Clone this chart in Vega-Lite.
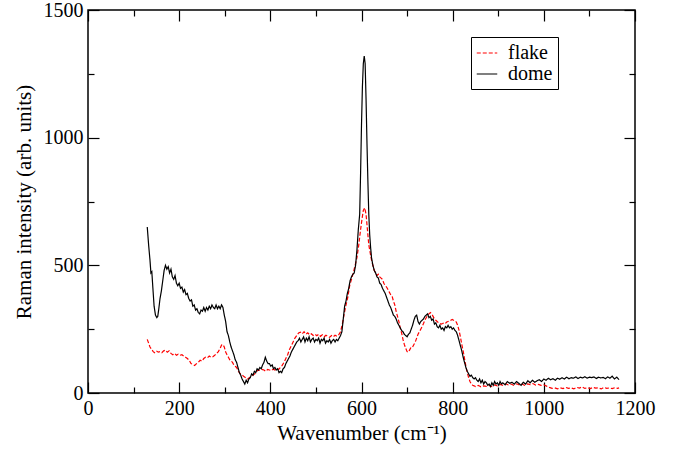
{
"$schema": "https://vega.github.io/schema/vega-lite/v6.json",
"width": 547, "height": 383,
"autosize": {"type": "none"},
"padding": {"left": 88, "top": 10, "right": 38, "bottom": 57},
"background": "white",
"config": {
  "view": {"stroke": "black", "strokeWidth": 1.5},
  "axis": {"labelFont": "Liberation Serif", "titleFont": "Liberation Serif", "labelColor": "black", "titleColor": "black", "labelFontSize": 20, "titleFontSize": 21, "titleFontWeight": "normal", "grid": false, "domain": false, "tickColor": "black", "tickWidth": 1.2, "format": "d"},
  "legend": {"labelFont": "Liberation Serif", "labelFontSize": 20, "labelColor": "black"}
},
"data": {"values": [
{"s":"flake","w":130,"i":210},{"s":"flake","w":133,"i":195},{"s":"flake","w":136,"i":180},{"s":"flake","w":140,"i":170},{"s":"flake","w":143,"i":162},{"s":"flake","w":146,"i":158},{"s":"flake","w":150,"i":165},{"s":"flake","w":154,"i":160},{"s":"flake","w":158,"i":162},{"s":"flake","w":162,"i":158},{"s":"flake","w":166,"i":165},{"s":"flake","w":170,"i":168},{"s":"flake","w":174,"i":160},{"s":"flake","w":178,"i":165},{"s":"flake","w":182,"i":155},{"s":"flake","w":186,"i":150},{"s":"flake","w":190,"i":155},{"s":"flake","w":194,"i":148},{"s":"flake","w":198,"i":152},{"s":"flake","w":202,"i":148},{"s":"flake","w":206,"i":150},{"s":"flake","w":210,"i":145},{"s":"flake","w":214,"i":140},{"s":"flake","w":218,"i":135},{"s":"flake","w":222,"i":128},{"s":"flake","w":226,"i":115},{"s":"flake","w":230,"i":112},{"s":"flake","w":234,"i":108},{"s":"flake","w":238,"i":115},{"s":"flake","w":242,"i":120},{"s":"flake","w":246,"i":128},{"s":"flake","w":250,"i":125},{"s":"flake","w":254,"i":135},{"s":"flake","w":258,"i":140},{"s":"flake","w":262,"i":138},{"s":"flake","w":266,"i":145},{"s":"flake","w":270,"i":140},{"s":"flake","w":274,"i":142},{"s":"flake","w":278,"i":148},{"s":"flake","w":282,"i":155},{"s":"flake","w":286,"i":162},{"s":"flake","w":290,"i":175},{"s":"flake","w":293,"i":188},{"s":"flake","w":296,"i":190},{"s":"flake","w":299,"i":180},{"s":"flake","w":302,"i":160},{"s":"flake","w":305,"i":150},{"s":"flake","w":308,"i":140},{"s":"flake","w":311,"i":130},{"s":"flake","w":314,"i":125},{"s":"flake","w":317,"i":120},{"s":"flake","w":320,"i":110},{"s":"flake","w":323,"i":105},{"s":"flake","w":326,"i":100},{"s":"flake","w":330,"i":85},{"s":"flake","w":334,"i":75},{"s":"flake","w":338,"i":70},{"s":"flake","w":342,"i":65},{"s":"flake","w":346,"i":60},{"s":"flake","w":350,"i":55},{"s":"flake","w":354,"i":60},{"s":"flake","w":358,"i":65},{"s":"flake","w":362,"i":70},{"s":"flake","w":366,"i":75},{"s":"flake","w":370,"i":85},{"s":"flake","w":374,"i":90},{"s":"flake","w":378,"i":88},{"s":"flake","w":382,"i":92},{"s":"flake","w":386,"i":90},{"s":"flake","w":390,"i":85},{"s":"flake","w":394,"i":92},{"s":"flake","w":398,"i":90},{"s":"flake","w":402,"i":88},{"s":"flake","w":406,"i":93},{"s":"flake","w":410,"i":90},{"s":"flake","w":414,"i":95},{"s":"flake","w":418,"i":92},{"s":"flake","w":422,"i":100},{"s":"flake","w":426,"i":108},{"s":"flake","w":430,"i":120},{"s":"flake","w":434,"i":135},{"s":"flake","w":438,"i":150},{"s":"flake","w":442,"i":170},{"s":"flake","w":446,"i":185},{"s":"flake","w":450,"i":200},{"s":"flake","w":454,"i":215},{"s":"flake","w":458,"i":225},{"s":"flake","w":462,"i":235},{"s":"flake","w":466,"i":238},{"s":"flake","w":470,"i":232},{"s":"flake","w":474,"i":240},{"s":"flake","w":478,"i":230},{"s":"flake","w":482,"i":236},{"s":"flake","w":486,"i":228},{"s":"flake","w":490,"i":232},{"s":"flake","w":494,"i":225},{"s":"flake","w":498,"i":230},{"s":"flake","w":502,"i":224},{"s":"flake","w":506,"i":230},{"s":"flake","w":510,"i":222},{"s":"flake","w":514,"i":228},{"s":"flake","w":518,"i":220},{"s":"flake","w":522,"i":226},{"s":"flake","w":526,"i":222},{"s":"flake","w":530,"i":218},{"s":"flake","w":534,"i":225},{"s":"flake","w":538,"i":220},{"s":"flake","w":542,"i":226},{"s":"flake","w":546,"i":222},{"s":"flake","w":550,"i":228},{"s":"flake","w":554,"i":240},{"s":"flake","w":558,"i":270},{"s":"flake","w":562,"i":310},{"s":"flake","w":566,"i":345},{"s":"flake","w":570,"i":375},{"s":"flake","w":574,"i":420},{"s":"flake","w":578,"i":445},{"s":"flake","w":582,"i":470},{"s":"flake","w":586,"i":500},{"s":"flake","w":590,"i":530},{"s":"flake","w":594,"i":580},{"s":"flake","w":598,"i":640},{"s":"flake","w":601,"i":680},{"s":"flake","w":604,"i":715},{"s":"flake","w":607,"i":725},{"s":"flake","w":610,"i":700},{"s":"flake","w":613,"i":640},{"s":"flake","w":616,"i":580},{"s":"flake","w":619,"i":550},{"s":"flake","w":622,"i":520},{"s":"flake","w":625,"i":500},{"s":"flake","w":628,"i":480},{"s":"flake","w":631,"i":470},{"s":"flake","w":634,"i":460},{"s":"flake","w":637,"i":465},{"s":"flake","w":640,"i":455},{"s":"flake","w":643,"i":450},{"s":"flake","w":646,"i":445},{"s":"flake","w":649,"i":430},{"s":"flake","w":652,"i":420},{"s":"flake","w":655,"i":415},{"s":"flake","w":658,"i":405},{"s":"flake","w":661,"i":395},{"s":"flake","w":664,"i":385},{"s":"flake","w":667,"i":380},{"s":"flake","w":670,"i":360},{"s":"flake","w":673,"i":345},{"s":"flake","w":676,"i":320},{"s":"flake","w":679,"i":300},{"s":"flake","w":682,"i":280},{"s":"flake","w":685,"i":255},{"s":"flake","w":688,"i":235},{"s":"flake","w":691,"i":210},{"s":"flake","w":694,"i":190},{"s":"flake","w":697,"i":175},{"s":"flake","w":700,"i":162},{"s":"flake","w":703,"i":160},{"s":"flake","w":706,"i":170},{"s":"flake","w":709,"i":180},{"s":"flake","w":712,"i":180},{"s":"flake","w":715,"i":190},{"s":"flake","w":718,"i":200},{"s":"flake","w":721,"i":215},{"s":"flake","w":724,"i":230},{"s":"flake","w":727,"i":240},{"s":"flake","w":730,"i":250},{"s":"flake","w":733,"i":260},{"s":"flake","w":736,"i":272},{"s":"flake","w":739,"i":285},{"s":"flake","w":742,"i":295},{"s":"flake","w":745,"i":305},{"s":"flake","w":748,"i":310},{"s":"flake","w":751,"i":315},{"s":"flake","w":754,"i":310},{"s":"flake","w":757,"i":300},{"s":"flake","w":760,"i":290},{"s":"flake","w":763,"i":285},{"s":"flake","w":766,"i":280},{"s":"flake","w":769,"i":275},{"s":"flake","w":772,"i":272},{"s":"flake","w":775,"i":270},{"s":"flake","w":778,"i":272},{"s":"flake","w":781,"i":275},{"s":"flake","w":784,"i":272},{"s":"flake","w":787,"i":278},{"s":"flake","w":790,"i":280},{"s":"flake","w":793,"i":282},{"s":"flake","w":796,"i":285},{"s":"flake","w":799,"i":288},{"s":"flake","w":802,"i":285},{"s":"flake","w":805,"i":282},{"s":"flake","w":808,"i":278},{"s":"flake","w":811,"i":265},{"s":"flake","w":814,"i":245},{"s":"flake","w":817,"i":220},{"s":"flake","w":820,"i":190},{"s":"flake","w":823,"i":165},{"s":"flake","w":826,"i":135},{"s":"flake","w":829,"i":105},{"s":"flake","w":832,"i":80},{"s":"flake","w":835,"i":60},{"s":"flake","w":838,"i":45},{"s":"flake","w":841,"i":35},{"s":"flake","w":844,"i":30},{"s":"flake","w":847,"i":28},{"s":"flake","w":850,"i":25},{"s":"flake","w":856,"i":30},{"s":"flake","w":862,"i":24},{"s":"flake","w":868,"i":28},{"s":"flake","w":874,"i":26},{"s":"flake","w":880,"i":30},{"s":"flake","w":886,"i":25},{"s":"flake","w":892,"i":32},{"s":"flake","w":898,"i":28},{"s":"flake","w":904,"i":34},{"s":"flake","w":910,"i":30},{"s":"flake","w":916,"i":36},{"s":"flake","w":922,"i":32},{"s":"flake","w":928,"i":35},{"s":"flake","w":934,"i":30},{"s":"flake","w":940,"i":36},{"s":"flake","w":946,"i":32},{"s":"flake","w":952,"i":35},{"s":"flake","w":958,"i":30},{"s":"flake","w":964,"i":36},{"s":"flake","w":970,"i":33},{"s":"flake","w":976,"i":37},{"s":"flake","w":982,"i":31},{"s":"flake","w":988,"i":34},{"s":"flake","w":994,"i":30},{"s":"flake","w":1000,"i":32},{"s":"flake","w":1006,"i":27},{"s":"flake","w":1012,"i":22},{"s":"flake","w":1018,"i":18},{"s":"flake","w":1024,"i":20},{"s":"flake","w":1030,"i":16},{"s":"flake","w":1036,"i":20},{"s":"flake","w":1042,"i":17},{"s":"flake","w":1048,"i":22},{"s":"flake","w":1054,"i":18},{"s":"flake","w":1060,"i":20},{"s":"flake","w":1066,"i":16},{"s":"flake","w":1072,"i":22},{"s":"flake","w":1078,"i":19},{"s":"flake","w":1084,"i":24},{"s":"flake","w":1090,"i":18},{"s":"flake","w":1096,"i":21},{"s":"flake","w":1102,"i":17},{"s":"flake","w":1108,"i":22},{"s":"flake","w":1114,"i":19},{"s":"flake","w":1120,"i":20},{"s":"flake","w":1126,"i":16},{"s":"flake","w":1132,"i":22},{"s":"flake","w":1138,"i":18},{"s":"flake","w":1144,"i":20},{"s":"flake","w":1150,"i":17},{"s":"flake","w":1156,"i":21},{"s":"flake","w":1162,"i":18},{"s":"flake","w":1165,"i":20},
{"s":"dome","w":130,"i":650},{"s":"dome","w":133,"i":580},{"s":"dome","w":136,"i":520},{"s":"dome","w":138,"i":470},{"s":"dome","w":140,"i":475},{"s":"dome","w":142,"i":420},{"s":"dome","w":145,"i":340},{"s":"dome","w":148,"i":305},{"s":"dome","w":151,"i":295},{"s":"dome","w":153,"i":300},{"s":"dome","w":155,"i":325},{"s":"dome","w":158,"i":370},{"s":"dome","w":161,"i":400},{"s":"dome","w":164,"i":440},{"s":"dome","w":167,"i":480},{"s":"dome","w":170,"i":500},{"s":"dome","w":173,"i":485},{"s":"dome","w":176,"i":495},{"s":"dome","w":179,"i":470},{"s":"dome","w":182,"i":485},{"s":"dome","w":185,"i":455},{"s":"dome","w":188,"i":445},{"s":"dome","w":191,"i":460},{"s":"dome","w":194,"i":430},{"s":"dome","w":197,"i":420},{"s":"dome","w":200,"i":430},{"s":"dome","w":203,"i":410},{"s":"dome","w":206,"i":415},{"s":"dome","w":209,"i":395},{"s":"dome","w":212,"i":405},{"s":"dome","w":215,"i":385},{"s":"dome","w":218,"i":390},{"s":"dome","w":221,"i":370},{"s":"dome","w":224,"i":360},{"s":"dome","w":227,"i":365},{"s":"dome","w":230,"i":340},{"s":"dome","w":233,"i":345},{"s":"dome","w":236,"i":325},{"s":"dome","w":239,"i":330},{"s":"dome","w":242,"i":315},{"s":"dome","w":245,"i":310},{"s":"dome","w":248,"i":325},{"s":"dome","w":251,"i":320},{"s":"dome","w":254,"i":335},{"s":"dome","w":257,"i":320},{"s":"dome","w":260,"i":335},{"s":"dome","w":263,"i":325},{"s":"dome","w":266,"i":340},{"s":"dome","w":269,"i":330},{"s":"dome","w":272,"i":345},{"s":"dome","w":275,"i":335},{"s":"dome","w":278,"i":330},{"s":"dome","w":281,"i":345},{"s":"dome","w":284,"i":330},{"s":"dome","w":287,"i":340},{"s":"dome","w":290,"i":330},{"s":"dome","w":293,"i":345},{"s":"dome","w":296,"i":335},{"s":"dome","w":299,"i":305},{"s":"dome","w":302,"i":280},{"s":"dome","w":305,"i":240},{"s":"dome","w":308,"i":225},{"s":"dome","w":311,"i":200},{"s":"dome","w":314,"i":180},{"s":"dome","w":317,"i":165},{"s":"dome","w":320,"i":150},{"s":"dome","w":323,"i":130},{"s":"dome","w":326,"i":120},{"s":"dome","w":329,"i":100},{"s":"dome","w":332,"i":80},{"s":"dome","w":335,"i":70},{"s":"dome","w":338,"i":55},{"s":"dome","w":341,"i":45},{"s":"dome","w":344,"i":35},{"s":"dome","w":347,"i":50},{"s":"dome","w":350,"i":40},{"s":"dome","w":353,"i":55},{"s":"dome","w":356,"i":60},{"s":"dome","w":359,"i":75},{"s":"dome","w":362,"i":70},{"s":"dome","w":365,"i":85},{"s":"dome","w":368,"i":80},{"s":"dome","w":371,"i":95},{"s":"dome","w":374,"i":90},{"s":"dome","w":377,"i":100},{"s":"dome","w":380,"i":95},{"s":"dome","w":383,"i":110},{"s":"dome","w":386,"i":120},{"s":"dome","w":389,"i":140},{"s":"dome","w":392,"i":125},{"s":"dome","w":395,"i":115},{"s":"dome","w":398,"i":115},{"s":"dome","w":401,"i":105},{"s":"dome","w":404,"i":110},{"s":"dome","w":407,"i":95},{"s":"dome","w":410,"i":100},{"s":"dome","w":413,"i":90},{"s":"dome","w":416,"i":95},{"s":"dome","w":419,"i":80},{"s":"dome","w":422,"i":85},{"s":"dome","w":425,"i":80},{"s":"dome","w":428,"i":95},{"s":"dome","w":431,"i":100},{"s":"dome","w":434,"i":115},{"s":"dome","w":437,"i":125},{"s":"dome","w":440,"i":135},{"s":"dome","w":443,"i":145},{"s":"dome","w":446,"i":160},{"s":"dome","w":449,"i":170},{"s":"dome","w":452,"i":180},{"s":"dome","w":455,"i":190},{"s":"dome","w":458,"i":200},{"s":"dome","w":461,"i":205},{"s":"dome","w":464,"i":215},{"s":"dome","w":467,"i":200},{"s":"dome","w":470,"i":210},{"s":"dome","w":473,"i":220},{"s":"dome","w":476,"i":200},{"s":"dome","w":479,"i":215},{"s":"dome","w":482,"i":205},{"s":"dome","w":485,"i":220},{"s":"dome","w":488,"i":200},{"s":"dome","w":491,"i":210},{"s":"dome","w":494,"i":215},{"s":"dome","w":497,"i":200},{"s":"dome","w":500,"i":210},{"s":"dome","w":503,"i":205},{"s":"dome","w":506,"i":215},{"s":"dome","w":509,"i":195},{"s":"dome","w":512,"i":210},{"s":"dome","w":515,"i":205},{"s":"dome","w":518,"i":215},{"s":"dome","w":521,"i":195},{"s":"dome","w":524,"i":205},{"s":"dome","w":527,"i":200},{"s":"dome","w":530,"i":210},{"s":"dome","w":533,"i":195},{"s":"dome","w":536,"i":205},{"s":"dome","w":539,"i":210},{"s":"dome","w":542,"i":200},{"s":"dome","w":545,"i":210},{"s":"dome","w":548,"i":205},{"s":"dome","w":551,"i":215},{"s":"dome","w":554,"i":225},{"s":"dome","w":557,"i":240},{"s":"dome","w":560,"i":290},{"s":"dome","w":563,"i":340},{"s":"dome","w":566,"i":360},{"s":"dome","w":569,"i":390},{"s":"dome","w":572,"i":410},{"s":"dome","w":575,"i":440},{"s":"dome","w":578,"i":455},{"s":"dome","w":581,"i":465},{"s":"dome","w":584,"i":470},{"s":"dome","w":587,"i":500},{"s":"dome","w":590,"i":560},{"s":"dome","w":593,"i":640},{"s":"dome","w":596,"i":700},{"s":"dome","w":598,"i":860},{"s":"dome","w":600,"i":1050},{"s":"dome","w":602,"i":1200},{"s":"dome","w":604,"i":1290},{"s":"dome","w":606,"i":1320},{"s":"dome","w":608,"i":1290},{"s":"dome","w":610,"i":1150},{"s":"dome","w":612,"i":980},{"s":"dome","w":614,"i":830},{"s":"dome","w":616,"i":700},{"s":"dome","w":618,"i":620},{"s":"dome","w":620,"i":570},{"s":"dome","w":622,"i":530},{"s":"dome","w":625,"i":500},{"s":"dome","w":628,"i":480},{"s":"dome","w":631,"i":470},{"s":"dome","w":634,"i":455},{"s":"dome","w":637,"i":450},{"s":"dome","w":640,"i":430},{"s":"dome","w":643,"i":425},{"s":"dome","w":646,"i":410},{"s":"dome","w":649,"i":400},{"s":"dome","w":652,"i":390},{"s":"dome","w":655,"i":375},{"s":"dome","w":658,"i":360},{"s":"dome","w":661,"i":345},{"s":"dome","w":664,"i":335},{"s":"dome","w":667,"i":320},{"s":"dome","w":670,"i":305},{"s":"dome","w":673,"i":300},{"s":"dome","w":676,"i":290},{"s":"dome","w":679,"i":275},{"s":"dome","w":682,"i":265},{"s":"dome","w":685,"i":255},{"s":"dome","w":688,"i":245},{"s":"dome","w":691,"i":240},{"s":"dome","w":694,"i":230},{"s":"dome","w":697,"i":225},{"s":"dome","w":700,"i":220},{"s":"dome","w":703,"i":230},{"s":"dome","w":706,"i":235},{"s":"dome","w":709,"i":250},{"s":"dome","w":712,"i":265},{"s":"dome","w":715,"i":285},{"s":"dome","w":718,"i":300},{"s":"dome","w":721,"i":305},{"s":"dome","w":724,"i":280},{"s":"dome","w":727,"i":270},{"s":"dome","w":730,"i":280},{"s":"dome","w":733,"i":285},{"s":"dome","w":736,"i":290},{"s":"dome","w":739,"i":300},{"s":"dome","w":742,"i":305},{"s":"dome","w":745,"i":310},{"s":"dome","w":748,"i":295},{"s":"dome","w":751,"i":300},{"s":"dome","w":754,"i":285},{"s":"dome","w":757,"i":290},{"s":"dome","w":760,"i":270},{"s":"dome","w":763,"i":275},{"s":"dome","w":766,"i":260},{"s":"dome","w":769,"i":255},{"s":"dome","w":772,"i":265},{"s":"dome","w":775,"i":250},{"s":"dome","w":778,"i":255},{"s":"dome","w":781,"i":245},{"s":"dome","w":784,"i":260},{"s":"dome","w":787,"i":255},{"s":"dome","w":790,"i":265},{"s":"dome","w":793,"i":255},{"s":"dome","w":796,"i":260},{"s":"dome","w":799,"i":250},{"s":"dome","w":802,"i":255},{"s":"dome","w":805,"i":245},{"s":"dome","w":808,"i":240},{"s":"dome","w":811,"i":225},{"s":"dome","w":814,"i":205},{"s":"dome","w":817,"i":185},{"s":"dome","w":820,"i":165},{"s":"dome","w":823,"i":140},{"s":"dome","w":826,"i":120},{"s":"dome","w":829,"i":100},{"s":"dome","w":832,"i":85},{"s":"dome","w":835,"i":75},{"s":"dome","w":838,"i":65},{"s":"dome","w":841,"i":70},{"s":"dome","w":844,"i":60},{"s":"dome","w":847,"i":55},{"s":"dome","w":850,"i":60},{"s":"dome","w":853,"i":50},{"s":"dome","w":856,"i":45},{"s":"dome","w":859,"i":55},{"s":"dome","w":862,"i":40},{"s":"dome","w":865,"i":50},{"s":"dome","w":868,"i":35},{"s":"dome","w":871,"i":45},{"s":"dome","w":874,"i":40},{"s":"dome","w":877,"i":30},{"s":"dome","w":880,"i":35},{"s":"dome","w":883,"i":25},{"s":"dome","w":886,"i":40},{"s":"dome","w":889,"i":30},{"s":"dome","w":892,"i":45},{"s":"dome","w":895,"i":35},{"s":"dome","w":898,"i":40},{"s":"dome","w":901,"i":30},{"s":"dome","w":904,"i":45},{"s":"dome","w":907,"i":35},{"s":"dome","w":910,"i":40},{"s":"dome","w":915,"i":32},{"s":"dome","w":920,"i":45},{"s":"dome","w":925,"i":38},{"s":"dome","w":930,"i":42},{"s":"dome","w":935,"i":35},{"s":"dome","w":940,"i":45},{"s":"dome","w":945,"i":38},{"s":"dome","w":950,"i":30},{"s":"dome","w":955,"i":42},{"s":"dome","w":960,"i":35},{"s":"dome","w":965,"i":48},{"s":"dome","w":970,"i":40},{"s":"dome","w":975,"i":50},{"s":"dome","w":980,"i":42},{"s":"dome","w":985,"i":48},{"s":"dome","w":990,"i":52},{"s":"dome","w":995,"i":45},{"s":"dome","w":1000,"i":55},{"s":"dome","w":1005,"i":50},{"s":"dome","w":1010,"i":58},{"s":"dome","w":1015,"i":52},{"s":"dome","w":1020,"i":56},{"s":"dome","w":1025,"i":50},{"s":"dome","w":1030,"i":58},{"s":"dome","w":1035,"i":54},{"s":"dome","w":1040,"i":60},{"s":"dome","w":1045,"i":55},{"s":"dome","w":1050,"i":62},{"s":"dome","w":1055,"i":56},{"s":"dome","w":1060,"i":60},{"s":"dome","w":1065,"i":58},{"s":"dome","w":1070,"i":63},{"s":"dome","w":1075,"i":57},{"s":"dome","w":1080,"i":62},{"s":"dome","w":1085,"i":59},{"s":"dome","w":1090,"i":64},{"s":"dome","w":1095,"i":58},{"s":"dome","w":1100,"i":62},{"s":"dome","w":1105,"i":60},{"s":"dome","w":1110,"i":63},{"s":"dome","w":1115,"i":57},{"s":"dome","w":1120,"i":62},{"s":"dome","w":1125,"i":59},{"s":"dome","w":1130,"i":61},{"s":"dome","w":1135,"i":56},{"s":"dome","w":1140,"i":63},{"s":"dome","w":1145,"i":58},{"s":"dome","w":1150,"i":66},{"s":"dome","w":1155,"i":55},{"s":"dome","w":1160,"i":62},{"s":"dome","w":1165,"i":52}
]},
"resolve": {"axis": {"x": "independent", "y": "independent"}},
"layer": [
{
  "mark": {"type": "line", "strokeWidth": 1.2, "clip": true},
  "encoding": {
    "x": {"field": "w", "type": "quantitative", "scale": {"domain": [0, 1200], "nice": false, "zero": false},
      "axis": {"orient": "bottom", "values": [0,200,400,600,800,1000,1200], "ticks": false, "labelPadding": 5, "title": "Wavenumber (cm⁻¹)", "titlePadding": 4, "labelFlush": false, "labelOverlap": false}},
    "y": {"field": "i", "type": "quantitative", "scale": {"domain": [0, 1500], "nice": false, "zero": false},
      "axis": {"orient": "left", "values": [0,500,1000,1500], "ticks": false, "labelPadding": 5, "title": "Raman intensity (arb. units)", "titlePadding": 9, "labelFlush": false, "labelOverlap": false}},
    "color": {"field": "s", "type": "nominal", "scale": {"domain": ["flake", "dome"], "range": ["#ff0000", "#000000"]},
      "legend": {"title": null, "orient": "none", "legendX": 383, "legendY": 27, "strokeColor": "black", "fillColor": "white", "padding": 5, "symbolType": "stroke", "symbolSize": 420, "symbolStrokeWidth": 1.2, "labelOffset": 10, "rowPadding": 0}},
    "strokeDash": {"field": "s", "type": "nominal", "scale": {"domain": ["flake", "dome"], "range": [[4, 2], [1, 0]]}, "legend": {"title": null, "orient": "none", "legendX": 383, "legendY": 27, "strokeColor": "black", "fillColor": "white", "padding": 5, "symbolType": "stroke", "symbolSize": 420, "symbolStrokeWidth": 1.2, "labelOffset": 10, "rowPadding": 0}},
    "order": {"field": "w", "type": "quantitative"}
  }
},
{
  "mark": {"type": "point", "opacity": 0},
  "encoding": {
    "x": {"field": "w", "type": "quantitative", "scale": {"domain": [0, 1200], "nice": false, "zero": false},
      "axis": {"orient": "bottom", "values": [0,200,400,600,800,1000,1200], "tickSize": -11, "labels": false, "title": null}},
    "y": {"field": "i", "type": "quantitative", "scale": {"domain": [0, 1500], "nice": false, "zero": false},
      "axis": {"orient": "left", "values": [0,500,1000,1500], "tickSize": -11, "labels": false, "title": null}}
  }
},
{
  "mark": {"type": "point", "opacity": 0},
  "encoding": {
    "x": {"field": "w", "type": "quantitative", "scale": {"domain": [0, 1200], "nice": false, "zero": false},
      "axis": {"orient": "bottom", "values": [100,300,500,700,900,1100], "tickSize": -6, "labels": false, "title": null}},
    "y": {"field": "i", "type": "quantitative", "scale": {"domain": [0, 1500], "nice": false, "zero": false},
      "axis": {"orient": "left", "values": [250,750,1250], "tickSize": -6, "labels": false, "title": null}}
  }
},
{
  "mark": {"type": "point", "opacity": 0},
  "encoding": {
    "x": {"field": "w", "type": "quantitative", "scale": {"domain": [0, 1200], "nice": false, "zero": false},
      "axis": {"orient": "top", "values": [0,200,400,600,800,1000,1200], "tickSize": -11, "labels": false, "title": null}},
    "y": {"field": "i", "type": "quantitative", "scale": {"domain": [0, 1500], "nice": false, "zero": false},
      "axis": {"orient": "right", "values": [0,500,1000,1500], "tickSize": -11, "labels": false, "title": null}}
  }
},
{
  "mark": {"type": "point", "opacity": 0},
  "encoding": {
    "x": {"field": "w", "type": "quantitative", "scale": {"domain": [0, 1200], "nice": false, "zero": false},
      "axis": {"orient": "top", "values": [100,300,500,700,900,1100], "tickSize": -6, "labels": false, "title": null}},
    "y": {"field": "i", "type": "quantitative", "scale": {"domain": [0, 1500], "nice": false, "zero": false},
      "axis": {"orient": "right", "values": [250,750,1250], "tickSize": -6, "labels": false, "title": null}}
  }
}
]
}
